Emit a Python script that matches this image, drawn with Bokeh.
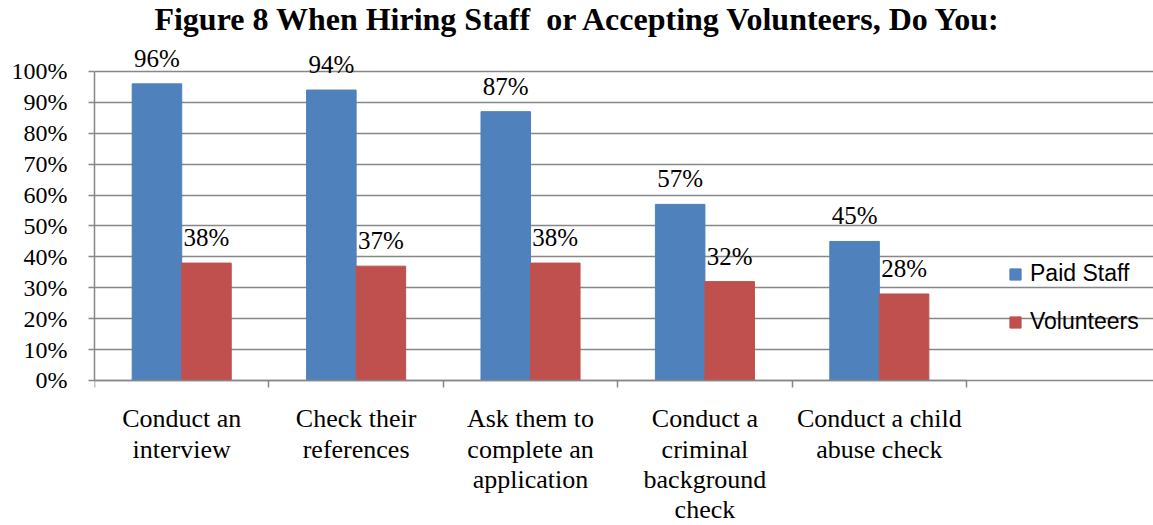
from bokeh.plotting import figure
from bokeh.models import ColumnDataSource, FixedTicker, Legend, LegendItem, LabelSet, Div
from bokeh.layouts import column
from bokeh.core.properties import value
from bokeh.embed import file_html
from bokeh.resources import INLINE

title_text = "Figure 8 When Hiring Staff&nbsp; or Accepting Volunteers, Do You:"
categories = ["Conduct an\ninterview", "Check their\nreferences",
              "Ask them to\ncomplete an\napplication",
              "Conduct a\ncriminal\nbackground\ncheck",
              "Conduct a child\nabuse check"]
paid_staff = [96, 94, 87, 57, 45]
volunteers = [38, 37, 38, 32, 28]
y_ticks = [0, 10, 20, 30, 40, 50, 60, 70, 80, 90, 100]
series_names = ["Paid Staff", "Volunteers"]

BLUE = "#4F81BD"
RED = "#C0504D"
GRID = "#878787"
SERIF = "Liberation Serif"

n = len(categories)
idx = list(range(n))
off = 0.142
bw = 0.284

src_p = ColumnDataSource(dict(x=[i - off for i in idx], y=paid_staff,
                              lab=[f"{v}%" for v in paid_staff]))
src_v = ColumnDataSource(dict(x=[i + off for i in idx], y=volunteers,
                              lab=[f"{v}%" for v in volunteers]))

title = Div(text=f'<div style="width:1153px;text-align:center;font-family:\'Liberation Serif\';'
                 f'font-weight:bold;font-size:32px;line-height:38px;color:black;white-space:nowrap">'
                 f'{title_text}</div>',
            width=1153, height=40, margin=(0, 0, 0, 0))

# frame spans to the right edge; grid and axis are bounded to the categories
p = figure(width=1153, height=485, output_backend="svg", toolbar_location=None,
           x_range=(-0.5, 5.572), y_range=(-46.93, 110.03),
           min_border_left=94, min_border_right=0, min_border_top=0,
           min_border_bottom=0, outline_line_color=None, margin=(0, 0, 0, 0))

r1 = p.vbar(x="x", top="y", width=bw, source=src_p, color=BLUE)
r2 = p.vbar(x="x", top="y", width=bw, source=src_v, color=RED)

for src in (src_p, src_v):
    p.add_layout(LabelSet(x="x", y="y", text="lab", source=src, text_align="center",
                          text_baseline="alphabetic", y_offset=17,
                          text_font=value(SERIF), text_font_size="25px",
                          text_color="black"))

# y axis
p.yaxis.ticker = FixedTicker(ticks=y_ticks)
p.yaxis.major_label_overrides = {t: f"{t}%" for t in y_ticks}
p.yaxis.major_label_text_font = SERIF
p.yaxis.major_label_text_font_size = "24px"
p.yaxis.major_label_text_color = "black"
p.yaxis.axis_line_color = GRID
p.yaxis.major_tick_line_color = GRID
p.yaxis.major_tick_out = 6
p.yaxis.major_tick_in = 0
p.yaxis.minor_tick_line_color = None
p.yaxis.major_label_standoff = 21
p.yaxis.axis_line_width = 1.5
p.yaxis.major_tick_line_width = 1.5
p.yaxis.bounds = (0, 100)

# x axis, pinned at y = 0
p.xaxis.fixed_location = 0
p.xaxis.bounds = (-0.5, n - 0.5)
p.xaxis.ticker = FixedTicker(ticks=idx, minor_ticks=[i - 0.5 for i in idx] + [n - 0.5])
p.xaxis.major_label_overrides = {i: c for i, c in zip(idx, categories)}
p.xaxis.major_label_text_font = SERIF
p.xaxis.major_label_text_font_size = "26px"
p.xaxis.major_label_text_line_height = 1.04
p.xaxis.major_label_text_color = "black"
p.xaxis.major_tick_line_color = None
p.xaxis.major_tick_out = 7
p.xaxis.major_tick_in = 0
p.xaxis.major_label_standoff = 17
p.xaxis.minor_tick_line_color = GRID
p.xaxis.minor_tick_out = 7
p.xaxis.minor_tick_in = 0
p.xaxis.minor_tick_line_width = 1.5
p.xaxis.axis_line_color = GRID
p.xaxis.axis_line_width = 1.5

p.xgrid.grid_line_color = None
p.ygrid.grid_line_color = GRID
p.ygrid.grid_line_width = 1.5
p.ygrid.bounds = (-0.5, n - 0.5)

legend = Legend(items=[LegendItem(label=series_names[0], renderers=[r1]),
                       LegendItem(label=series_names[1], renderers=[r2])],
                location=(914, 190), orientation="vertical",
                glyph_width=14, glyph_height=14, label_standoff=8, label_height=26,
                spacing=21, padding=0, margin=0, border_line_color=None,
                background_fill_alpha=0,
                label_text_font="Liberation Sans", label_text_font_size="23px",
                label_text_color="black")
p.add_layout(legend, "center")

layout = column(title, p, spacing=0)
open("out.html", "w").write(file_html(layout, INLINE))
